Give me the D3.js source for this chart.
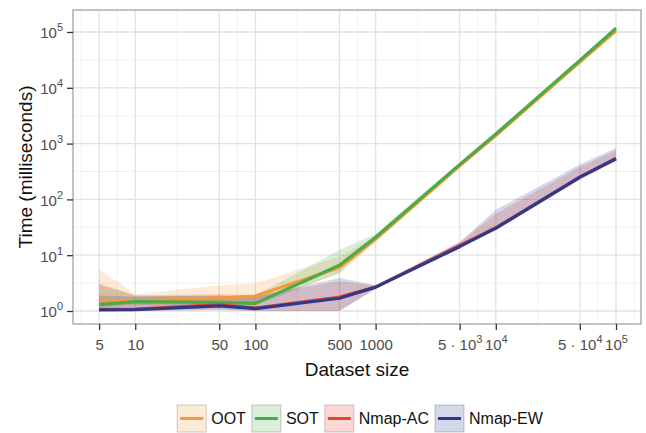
<!DOCTYPE html>
<html><head><meta charset="utf-8">
<script src="https://cdn.jsdelivr.net/npm/d3@7"></script>
<style>
html,body{margin:0;padding:0;background:#fff;}
text{font-family:"Liberation Sans",Arial,Helvetica,sans-serif;}
</style></head>
<body>
<svg id="chart" width="646" height="433"></svg>
<script>
// ---- data ----
const sizes = [5, 10, 50, 100, 500, 1000, 5000, 10000, 50000, 100000];
const seriesNames = ["OOT", "SOT", "Nmap-AC", "Nmap-EW"];
const ootMean = [1.55, 1.5, 1.72, 1.85, 6.0, 19.5, 400, 1400, 29000, 105000];
const ootLow  = [1.2, 1.2, 1.3, 1.4, 4.6, 17, 370, 1300, 27000, 98000];
const ootHigh = [5.6, 2.0, 2.9, 3.1, 9.5, 22, 440, 1550, 32000, 112000];
const sotMean = [1.3, 1.47, 1.43, 1.37, 6.6, 21, 420, 1480, 31000, 117000];
const sotLow  = [1.15, 1.3, 1.3, 1.25, 4.8, 19, 390, 1400, 29000, 110000];
const sotHigh = [3.1, 1.9, 1.8, 1.9, 12.4, 24, 470, 1600, 33000, 125000];
const acMean  = [1.07, 1.08, 1.3, 1.13, 1.78, 2.68, 15, 31, 250, 530];
const acLow   = [1.0, 1.0, 1.05, 1.0, 1.0, 2.5, 14, 28, 220, 500];
const acHigh  = [3.0, 1.9, 2.0, 1.9, 3.4, 2.9, 17, 55, 380, 760];
const ewMean  = [1.05, 1.06, 1.24, 1.1, 1.69, 2.68, 14.2, 30.5, 250, 540];
const ewLow   = [1.0, 1.0, 1.05, 1.0, 1.0, 2.5, 13.5, 28, 230, 510];
const ewHigh  = [1.9, 1.8, 1.9, 1.8, 3.9, 2.9, 17, 65, 420, 830];
const xTickValues = [5, 10, 50, 100, 500, 1000, 5000, 10000, 50000, 100000];
const xTickLabels = [["5"], ["10"], ["50"], ["100"], ["500"], ["1000"], ["5 \u00b7 10", "3"], ["10", "4"], ["5 \u00b7 10", "4"], ["10", "5"]];
const yTickValues = [1, 10, 100, 1000, 10000, 100000];
const yTickExps = ["0", "1", "2", "3", "4", "5"];
const colors = ["#f59a36", "#4aab47", "#e7432d", "#2d3a8c"];

const series = [
  {name: seriesNames[0], mean: ootMean, lo: ootLow, hi: ootHigh, color: colors[0]},
  {name: seriesNames[1], mean: sotMean, lo: sotLow, hi: sotHigh, color: colors[1]},
  {name: seriesNames[2], mean: acMean, lo: acLow, hi: acHigh, color: colors[2]},
  {name: seriesNames[3], mean: ewMean, lo: ewLow, hi: ewHigh, color: colors[3]}
];

// ---- layout ----
const P = {left: 73, right: 641, top: 10, bottom: 324};
const x = d3.scaleLog().domain([Math.pow(10, 0.482), Math.pow(10, 5.208)]).range([P.left, P.right]);
const y = d3.scaleLog().domain([Math.pow(10, -0.233), Math.pow(10, 5.394)]).range([P.bottom, P.top]);

const svg = d3.select("#chart");
svg.append("rect").attr("width", 646).attr("height", 433).attr("fill", "#fff");

const defs = svg.append("defs");
defs.append("clipPath").attr("id", "clip").append("rect")
  .attr("x", P.left).attr("y", P.top).attr("width", P.right - P.left).attr("height", P.bottom - P.top);

// grid
const lx = xTickValues.map(v => Math.log10(v));
const xMinor = [];
xMinor.push(Math.pow(10, (lx[0] - (lx[1] - lx[0]) + lx[0]) / 2));
for (let i = 0; i < lx.length - 1; i++) xMinor.push(Math.pow(10, (lx[i] + lx[i + 1]) / 2));
const dl = lx[lx.length - 1] - lx[lx.length - 2];
xMinor.push(Math.pow(10, lx[lx.length - 1] + dl / 2));
const yMinor = [];
for (let i = 0; i < yTickValues.length - 1; i++) yMinor.push(Math.sqrt(yTickValues[i] * yTickValues[i + 1]));

const grid = svg.append("g").attr("clip-path", "url(#clip)");
grid.selectAll(".xmin").data(xMinor).enter().append("line")
  .attr("x1", d => x(d)).attr("x2", d => x(d)).attr("y1", P.top).attr("y2", P.bottom)
  .attr("stroke", "#eeeeee").attr("stroke-width", 0.8);
grid.selectAll(".ymin").data(yMinor).enter().append("line")
  .attr("y1", d => y(d)).attr("y2", d => y(d)).attr("x1", P.left).attr("x2", P.right)
  .attr("stroke", "#eeeeee").attr("stroke-width", 0.8);
grid.selectAll(".xmaj").data(xTickValues).enter().append("line")
  .attr("x1", d => x(d)).attr("x2", d => x(d)).attr("y1", P.top).attr("y2", P.bottom)
  .attr("stroke", "#e2e2e2").attr("stroke-width", 1.3);
grid.selectAll(".ymaj").data(yTickValues).enter().append("line")
  .attr("y1", d => y(d)).attr("y2", d => y(d)).attr("x1", P.left).attr("x2", P.right)
  .attr("stroke", "#e2e2e2").attr("stroke-width", 1.3);

// ribbons
const plot = svg.append("g").attr("clip-path", "url(#clip)");
const area = d3.area().x(d => x(d.x)).y0(d => y(d.lo)).y1(d => y(d.hi));
const line = d3.line().x(d => x(d.x)).y(d => y(d.v));
series.forEach(s => {
  const pts = sizes.map((v, i) => ({x: v, lo: s.lo[i], hi: s.hi[i]}));
  plot.append("path").attr("d", area(pts)).attr("fill", s.color).attr("fill-opacity", 0.2);
});
series.forEach(s => {
  const pts = sizes.map((v, i) => ({x: v, v: s.mean[i]}));
  plot.append("path").attr("d", line(pts)).attr("fill", "none")
    .attr("stroke", s.color).attr("stroke-width", 3.2).attr("stroke-linejoin", "round");
});

// panel border
svg.append("rect").attr("x", P.left).attr("y", P.top).attr("width", P.right - P.left).attr("height", P.bottom - P.top)
  .attr("fill", "none").attr("stroke", "#9a9a9a").attr("stroke-width", 1.2);

// axes
const xAxis = d3.axisBottom(x).tickValues(xTickValues).tickSize(6).tickFormat("");
const gx = svg.append("g").attr("transform", `translate(0,${P.bottom})`).call(xAxis);
gx.select(".domain").remove();
gx.selectAll(".tick line").attr("stroke", "#333").attr("stroke-width", 1.3);
gx.selectAll(".tick").each(function(d, i) {
  const t = d3.select(this).append("text").attr("y", 26).attr("text-anchor", "middle")
    .attr("fill", "#4d4d4d").attr("font-size", 15);
  const lab = xTickLabels[i];
  t.append("tspan").text(lab[0]);
  if (lab.length > 1) t.append("tspan").attr("dy", -7).attr("font-size", 11).text(lab[1]);
});

const yAxis = d3.axisLeft(y).tickValues(yTickValues).tickSize(6).tickFormat("");
const gy = svg.append("g").attr("transform", `translate(${P.left},0)`).call(yAxis);
gy.select(".domain").remove();
gy.selectAll(".tick line").attr("stroke", "#333").attr("stroke-width", 1.3);
gy.selectAll(".tick").each(function(d, i) {
  const t = d3.select(this).append("text").attr("x", -10).attr("y", 6).attr("text-anchor", "end")
    .attr("fill", "#4d4d4d").attr("font-size", 15);
  t.append("tspan").text("10");
  t.append("tspan").attr("dy", -7).attr("font-size", 11).text(yTickExps[i]);
});

// titles
svg.append("text").attr("x", (P.left + P.right) / 2).attr("y", 376).attr("text-anchor", "middle")
  .attr("font-size", 19).attr("fill", "#111").text("Dataset size");
svg.append("text").attr("transform", `translate(32,${(P.top + P.bottom) / 2}) rotate(-90)`)
  .attr("text-anchor", "middle").attr("font-size", 19).attr("fill", "#111").text("Time (milliseconds)");

// legend
const leg = svg.append("g");
let cx = 0;
const items = [];
series.forEach(s => {
  const g = leg.append("g").attr("transform", `translate(${cx},0)`);
  g.append("rect").attr("x", 0).attr("y", 405).attr("width", 29).attr("height", 27)
    .attr("fill", "#fff").attr("stroke", "#cccccc").attr("stroke-width", 1);
  g.append("rect").attr("x", 0).attr("y", 405).attr("width", 29).attr("height", 27)
    .attr("fill", s.color).attr("fill-opacity", 0.2);
  g.append("line").attr("x1", 3).attr("x2", 26).attr("y1", 418.5).attr("y2", 418.5)
    .attr("stroke", s.color).attr("stroke-width", 3);
  const t = g.append("text").attr("x", 34).attr("y", 424).attr("font-size", 16).attr("fill", "#111").text(s.name);
  const w = t.node().getComputedTextLength();
  cx += 34 + w + 6;
});
const total = cx - 6;
leg.attr("transform", `translate(${360 - total / 2},0)`);
</script>
</body></html>
